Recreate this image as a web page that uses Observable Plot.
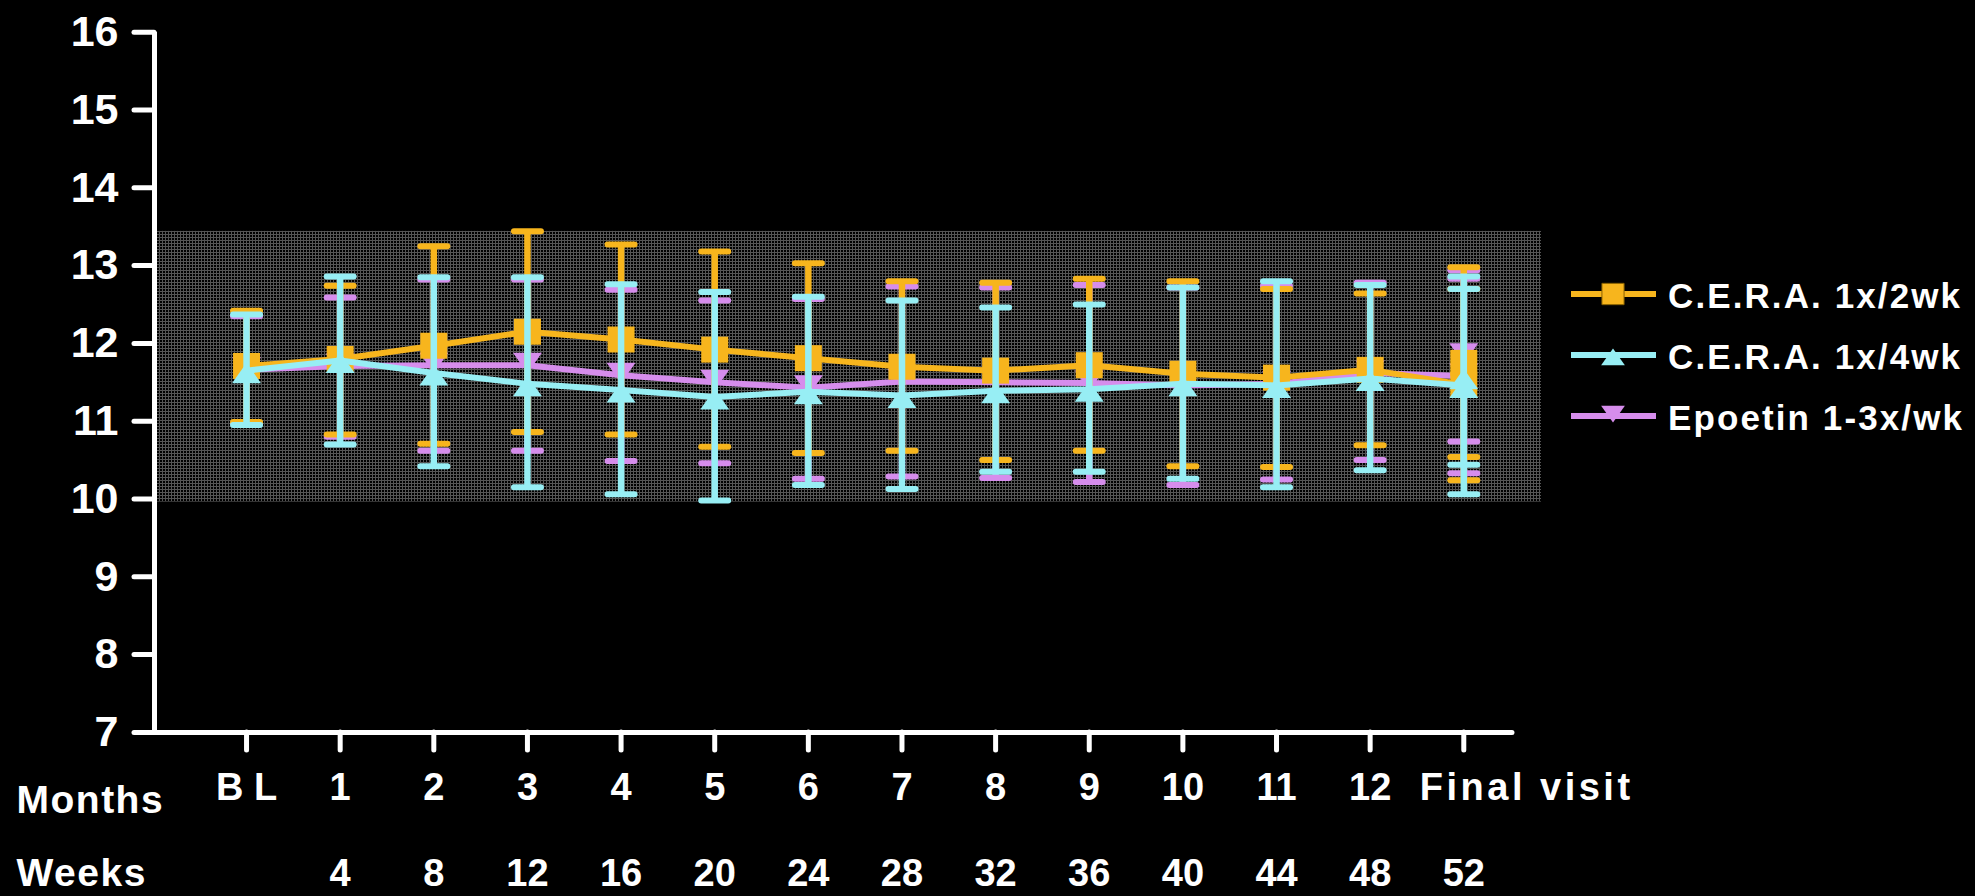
<!DOCTYPE html>
<html>
<head>
<meta charset="utf-8">
<script src="https://cdn.jsdelivr.net/npm/d3@7"></script>
<script src="https://cdn.jsdelivr.net/npm/@observablehq/plot@0.6"></script>
<style>
  html, body { margin: 0; background: #000; }
  #chart { position: relative; width: 1975px; height: 896px; overflow: hidden;
           font-family: "Liberation Sans", Arial, sans-serif; }
  #legend { position: absolute; left: 1555px; top: 260px; }
</style>
</head>
<body>
<div id="chart"></div>
<script>
// Visit categories along the x axis
const visits = ["B L", "1", "2", "3", "4", "5", "6", "7", "8", "9", "10", "11", "12", "Final visit"];
const weeks  = ["", "4", "8", "12", "16", "20", "24", "28", "32", "36", "40", "44", "48", "52"];
const yTicks = [7, 8, 9, 10, 11, 12, 13, 14, 15, 16];

// Final visit holds two overlapping readings per arm
const pointVisit = [0, 1, 2, 3, 4, 5, 6, 7, 8, 9, 10, 11, 12, 13, 13];

// Shaded target haemoglobin band (g/dL)
const targetBand = [9.96, 13.44];

// C.E.R.A. once every 2 weeks
const ceraQ2wMean = [11.71, 11.80, 11.97, 12.15, 12.05, 11.92, 11.81, 11.70, 11.65, 11.72, 11.61, 11.56, 11.66, 11.47, 11.75];
const ceraQ2wLow  = [10.99, 10.83, 10.71, 10.86, 10.83, 10.67, 10.59, 10.62, 10.50, 10.62, 10.42, 10.41, 10.69, 10.24, 10.54];
const ceraQ2wHigh = [12.42, 12.74, 13.25, 13.44, 13.27, 13.18, 13.03, 12.80, 12.78, 12.83, 12.80, 12.70, 12.64, 12.70, 12.98];

// C.E.R.A. once every 4 weeks
const ceraQ4wMean = [11.65, 11.78, 11.62, 11.48, 11.40, 11.31, 11.38, 11.33, 11.39, 11.41, 11.48, 11.46, 11.55, 11.46, 11.57];
const ceraQ4wLow  = [10.95, 10.70, 10.42, 10.15, 10.06, 9.98, 10.18, 10.13, 10.35, 10.35, 10.26, 10.15, 10.37, 10.06, 10.44];
const ceraQ4wHigh = [12.37, 12.86, 12.85, 12.85, 12.76, 12.66, 12.60, 12.55, 12.46, 12.50, 12.72, 12.80, 12.75, 12.86, 12.70];

// Epoetin 1-3 times weekly
const epoetinMean = [11.66, 11.71, 11.72, 11.72, 11.59, 11.50, 11.43, 11.51, 11.50, 11.49, 11.46, 11.48, 11.62, 11.58, 11.84];
const epoetinLow  = [10.97, 10.80, 10.62, 10.62, 10.49, 10.46, 10.26, 10.29, 10.27, 10.22, 10.18, 10.25, 10.50, 10.33, 10.74];
const epoetinHigh = [12.35, 12.59, 12.82, 12.82, 12.69, 12.55, 12.57, 12.73, 12.72, 12.75, 12.72, 12.74, 12.78, 12.83, 12.94];

const seriesNames  = ["C.E.R.A. 1x/2wk", "C.E.R.A. 1x/4wk", "Epoetin 1-3x/wk"];
const seriesColors = ["#f7b51d", "#97eef4", "#d68dec"];

// Marker shapes
const symSquare = { draw(c) { c.rect(-13.5, -13, 27, 26); } };
const symUp     = { draw(c) { c.moveTo(0, -8); c.lineTo(14.5, 12.5); c.lineTo(-14.5, 12.5); c.closePath(); } };
const symDown   = { draw(c) { c.moveTo(0, 8); c.lineTo(14.5, -12.5); c.lineTo(-14.5, -12.5); c.closePath(); } };
const symCap    = { draw(c) { c.moveTo(-13.5, 0); c.lineTo(13.5, 0); } };

const rowsOf = (mean, low, high) =>
  pointVisit.map((v, i) => ({ visit: v, mean: mean[i], low: low[i], high: high[i] }));

const series = [
  { rows: rowsOf(ceraQ2wMean, ceraQ2wLow, ceraQ2wHigh), color: seriesColors[0], symbol: symSquare },
  { rows: rowsOf(ceraQ4wMean, ceraQ4wLow, ceraQ4wHigh), color: seriesColors[1], symbol: symUp },
  { rows: rowsOf(epoetinMean, epoetinLow, epoetinHigh), color: seriesColors[2], symbol: symDown }
];
// drawing order: epoetin underneath, then 2-weekly, 4-weekly on top
const drawOrder = [series[2], series[0], series[1]];

const xDomain = [-0.983, 13.83];
const xAxisEnd = 13.52;

function seriesMarks(s) {
  return [
    Plot.ruleX(s.rows, { x: "visit", y1: "low", y2: "high", stroke: s.color, strokeWidth: 6.5 }),
    Plot.dot(s.rows, { x: "visit", y: "low", symbol: symCap, fill: "none", stroke: s.color, strokeWidth: 6, strokeLinecap: "round" }),
    Plot.dot(s.rows, { x: "visit", y: "high", symbol: symCap, fill: "none", stroke: s.color, strokeWidth: 6, strokeLinecap: "round" }),
    Plot.line(s.rows, { x: "visit", y: "mean", stroke: s.color, strokeWidth: 6, strokeLinejoin: "round" }),
    Plot.dot(s.rows, { x: "visit", y: "mean", symbol: s.symbol, fill: s.color, stroke: "none" })
  ];
}

const textStyle = { fill: "white", fontWeight: "bold" };
const lastVisit = visits.length - 1;

const svg = Plot.plot({
  width: 1975,
  height: 896,
  marginLeft: 154,
  marginRight: 434,
  marginTop: 31.7,
  marginBottom: 164.1,
  style: { background: "black", color: "white", fontFamily: "'Liberation Sans', Arial, sans-serif", overflow: "visible" },
  x: { type: "linear", domain: xDomain, label: null },
  y: { domain: [7, 16], label: null },
  marks: [
    Plot.rect([targetBand], { y1: d => d[0], y2: d => d[1], fill: "url(#mesh)" }),
    ...drawOrder.flatMap(seriesMarks),
    // axis lines
    Plot.ruleX([xDomain[0]], { stroke: "white", strokeWidth: 5 }),
    Plot.ruleY([7], { x1: xDomain[0], x2: xAxisEnd, stroke: "white", strokeWidth: 5, strokeLinecap: "round" }),
    Plot.axisY(yTicks, { tickSize: 20, tickPadding: 16, tickFormat: d => String(d), fontSize: 43, fontWeight: "bold", strokeWidth: 5, strokeLinecap: "round", label: null }),
    Plot.axisX(d3.range(visits.length), { tickSize: 18, tickFormat: () => "", strokeWidth: 5, strokeLinecap: "round", label: null }),
    // month row (the final visit label runs to the right of its tick)
    Plot.text(visits.slice(0, lastVisit), { x: (d, i) => i, text: d => d, frameAnchor: "bottom", dy: 68, lineAnchor: "bottom", fontSize: 38, ...textStyle }),
    Plot.text([lastVisit], { x: d => d, text: d => visits[d], frameAnchor: "bottom", dx: -44, dy: 68, textAnchor: "start", lineAnchor: "bottom", fontSize: 38, ...textStyle }),
    // week row
    Plot.text(weeks, { x: (d, i) => i, text: d => d, frameAnchor: "bottom", dy: 154, lineAnchor: "bottom", fontSize: 38, ...textStyle }),
    // row titles
    Plot.text(["Months"], { frameAnchor: "bottom-left", dx: -138, dy: 81, textAnchor: "start", lineAnchor: "bottom", fontSize: 39, ...textStyle }),
    Plot.text(["Weeks"], { frameAnchor: "bottom-left", dx: -138, dy: 154, textAnchor: "start", lineAnchor: "bottom", fontSize: 39, ...textStyle })
  ]
});

// fine mesh texture for the target band
const defs = d3.select(svg).insert("defs", ":first-child");
const pat = defs.append("pattern").attr("id", "mesh").attr("width", 3).attr("height", 3)
  .attr("patternUnits", "userSpaceOnUse");
pat.append("rect").attr("width", 3).attr("height", 3).attr("fill", "#000");
pat.append("rect").attr("width", 3).attr("height", 1).attr("fill", "#555");
pat.append("rect").attr("width", 1).attr("height", 3).attr("fill", "#555");

// letter spacing on the wider labels
const textGroups = svg.querySelectorAll('g[aria-label="text"]');
if (textGroups.length >= 5) {
  textGroups[1].setAttribute("letter-spacing", "3.5");
  textGroups[3].setAttribute("letter-spacing", "1.5");
  textGroups[4].setAttribute("letter-spacing", "1.5");
}

const chart = document.getElementById("chart");
chart.appendChild(svg);

// legend on the right
const legendSymbols = [symSquare, symUp, symDown];
const legend = d3.select(chart).append("svg").attr("id", "legend")
  .attr("width", 420).attr("height", 190);
seriesNames.forEach((name, i) => {
  const g = legend.append("g").attr("transform", `translate(0, ${34 + i * 61})`);
  g.append("line").attr("x1", 16).attr("x2", 101).attr("y1", 0).attr("y2", 0)
    .attr("stroke", seriesColors[i]).attr("stroke-width", 6);
  const p = d3.path();
  legendSymbols[i].draw(p);
  g.append("path").attr("d", p.toString()).attr("transform", "translate(58,0) scale(0.82)")
    .attr("fill", seriesColors[i]).attr("stroke", i === 0 ? "#8a6200" : "none").attr("stroke-width", 1.2);
  g.append("text").attr("x", 113).attr("y", 14).text(name)
    .attr("fill", "white").attr("font-size", 35).attr("font-weight", "bold")
    .attr("letter-spacing", 2.1)
    .attr("font-family", "'Liberation Sans', Arial, sans-serif");
});
</script>
</body>
</html>
